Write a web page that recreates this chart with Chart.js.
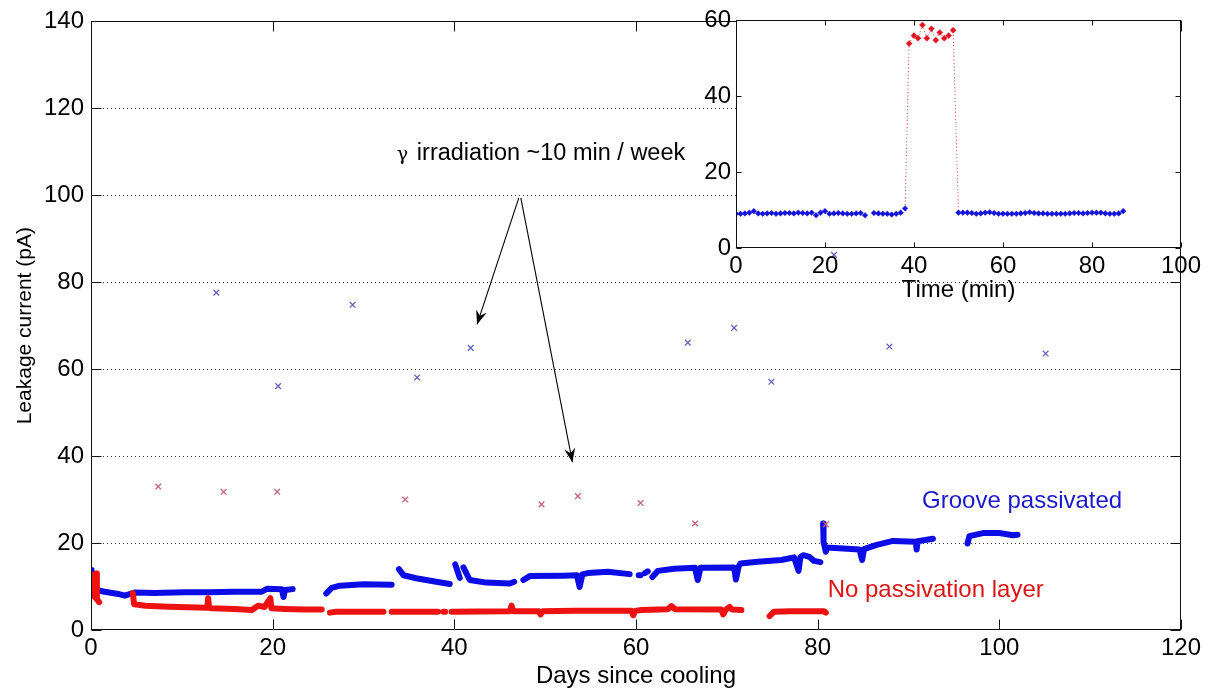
<!DOCTYPE html>
<html><head><meta charset="utf-8">
<script src="https://cdn.jsdelivr.net/npm/chart.js@4/dist/chart.umd.min.js"></script>
<style>
html,body{margin:0;padding:0;background:#fff;}
#wrap{position:relative;width:1205px;height:691px;overflow:hidden;}
#main{position:absolute;left:0;top:0;}
#inset{position:absolute;left:680px;top:0;}
</style></head><body>
<div id="wrap"><canvas id="main" width="1205" height="691"></canvas><canvas id="inset" width="525" height="310"></canvas></div>
<script>
// ---------- main chart data ----------
const mainXTicks = [0,20,40,60,80,100,120];
const mainYTicks = [0,20,40,60,80,100,120,140];
const mainGridY = [20,40,60,80,100,120];

// Groove passivated (blue) - null marks a gap in the record
const blueDays = [0,0.05,0.1,0.5,1.5,3.0,3.7,4.8,7,10.3,13,15.8,18.8,19.4,21.0,21.2,21.35,22.2,null,
  25.9,26.5,27.4,30.0,33.1,null,
  33.9,34.4,35.8,38.0,39.5,null,
  40.1,40.6,null,
  41.0,41.7,43.5,46.1,46.6,null,
  47.6,48.3,52.0,53.5,53.8,54.1,54.7,56.9,59.3,null,
  60.3,60.5,null,
  61.0,61.3,null,
  61.8,62.4,64.2,66.5,66.8,67.1,70.8,71.0,71.3,71.5,73.4,76.0,77.4,77.9,78.1,78.4,79.1,79.6,80.3,null,
  80.6,80.65,80.9,81.0,84.6,84.9,85.1,86.5,88.3,90.8,90.9,91.0,92.7,null,
  96.5,96.7,98.2,100.0,101.5,102.0];
const blueVals = [13.8,11.5,9.8,9.3,8.8,8.3,7.9,8.6,8.5,8.7,8.7,8.8,8.8,9.5,9.4,7.6,9.2,9.4,null,
  8.4,9.7,10.2,10.5,10.4,null,
  14.0,12.6,11.9,11.1,10.6,null,
  15.1,12.0,null,
  14.4,11.5,10.9,10.7,11.1,null,
  11.5,12.4,12.5,12.6,9.9,12.8,13.1,13.4,12.85,null,
  12.6,12.6,null,
  13.1,13.5,null,
  12.2,13.6,14.1,14.3,11.5,14.3,14.4,11.6,14.6,15.3,15.7,16.1,16.7,13.6,16.8,17.2,16.8,15.9,15.6,null,
  24.5,20.3,18.0,19.0,18.5,16.1,18.6,19.6,20.5,20.3,18.5,20.4,21.0,null,
  19.9,21.6,22.3,22.3,21.8,21.9];

// No passivation layer (red)
const redDays = [0,0.03,0.06,0.3,0.55,0.6,0.65,0.9,null,
  4.6,4.75,6,8.5,12.8,12.9,13.0,13.3,15.8,17.7,18.4,19.1,19.75,19.85,21.3,23.5,25.4,null,
  26.3,27,32.2,null,
  33.1,38.2,null,
  38.8,39.0,null,
  39.7,46.1,46.3,46.5,49.3,49.5,49.7,53.2,59.5,59.7,59.9,60.6,63.5,63.9,64.3,69.4,69.6,69.9,70.3,70.6,71.6,null,
  74.7,75.2,77,80.7,80.9];
const redVals = [12.8,11.0,9.0,7.9,7.3,13.0,7.1,6.4,null,
  8.5,5.9,5.6,5.35,5.1,7.3,5.1,5.0,4.85,4.6,5.6,5.3,7.3,5.0,4.85,4.7,4.7,null,
  4.0,4.2,4.2,null,
  4.2,4.2,null,
  4.2,4.2,null,
  4.2,4.3,5.6,4.3,4.3,3.6,4.3,4.4,4.4,3.4,4.4,4.6,4.8,5.5,4.8,4.7,3.6,4.7,5.3,4.7,4.6,null,
  3.2,4.2,4.3,4.3,4.0];

// irradiation readings (crosses)
const blueCrossDays = [13.8,20.6,28.8,35.9,41.8,65.7,70.8,74.9,81.8,87.9,105.1];
const blueCrossVals = [77.6,56.1,74.8,58.1,64.9,66.1,69.5,57.1,86.3,65.2,63.6];
const redCrossDays = [7.4,14.6,20.5,34.6,49.6,53.6,60.5,66.5,80.9];
const redCrossVals = [33.0,31.8,31.8,30.0,28.9,30.8,29.2,24.5,24.3];

// ---------- inset data ----------
const insetXTicks = [0,20,40,60,80,100];
const insetYTicks = [0,20,40,60];
const insetBlueMin = [0,1,2,3,4,5,6,7,8,9,10,11,12,13,14,15,16,17,18,19,20,21,22,23,24,25,26,27,28,29,
  31,32,33,34,35,36,37,38,
  50,51,52,53,54,55,56,57,58,59,60,61,62,63,64,65,66,67,68,69,70,71,72,73,74,75,76,77,78,79,80,81,82,83,84,85,86,87];
const insetBlueVals = [9.0,9.0,9.1,9.3,9.7,9.1,9.0,9.1,9.2,9.0,9.1,9.2,9.2,9.1,9.3,9.2,9.1,9.3,8.6,9.3,9.7,9.0,9.1,9.2,9.1,9.0,9.0,9.1,9.2,8.6,
  9.2,9.1,9.0,9.0,8.8,9.0,9.3,10.4,
  9.3,9.3,9.3,9.2,9.0,9.1,9.3,9.4,9.2,9.0,9.0,9.0,9.0,9.0,9.1,9.2,9.4,9.2,9.1,9.1,9.0,9.0,9.0,9.0,9.0,9.1,9.2,9.2,9.1,9.2,9.3,9.3,9.3,9.1,9.0,9.0,9.1,9.7];
const insetRedMin = [38.9,40.0,40.9,41.9,42.9,43.9,44.9,45.8,46.8,47.8,48.8];
const insetRedVals = [53.8,55.9,55.2,58.7,55.2,57.7,54.7,56.7,55.2,55.9,57.3];

// ---------- text ----------
const yTitle = 'Leakage current (pA)';
const xTitle = 'Days since cooling';
const insetXTitle = 'Time (min)';
const noteGamma = '\u03b3';
const noteText = 'irradiation ~10 min / week';
const blueLabel = 'Groove passivated';
const redLabel = 'No passivation layer';

const FONT = '"Liberation Sans", Arial, Helvetica, sans-serif';
const SERIF = '"DejaVu Serif", "Liberation Serif", serif';
const BLUE = '#0c0ce6';
const RED = '#ee1111';

function toPoints(xs, ys){ return xs.map((x,i)=>({x:x, y:ys[i]})); }

function arrow(ctx, x1, y1, x2, y2){
  ctx.beginPath(); ctx.moveTo(x1,y1); ctx.lineTo(x2,y2); ctx.stroke();
  const a = Math.atan2(y2-y1, x2-x1);
  const L = 14, W = 5.5, N = 9;
  const c = Math.cos(a), s = Math.sin(a);
  const bx = x2 - L*c, by = y2 - L*s;
  const nx = -s, ny = c;
  ctx.beginPath();
  ctx.moveTo(x2,y2);
  ctx.lineTo(bx + W*nx, by + W*ny);
  ctx.lineTo(x2 - N*c, y2 - N*s);
  ctx.lineTo(bx - W*nx, by - W*ny);
  ctx.closePath(); ctx.fill();
}

function framePlugin(o){
  return {
    id: 'frame',
    beforeDraw(chart){
      if (!o.fillArea) return;
      const a = chart.chartArea, ctx = chart.ctx;
      ctx.save(); ctx.fillStyle = '#fff';
      ctx.fillRect(a.left, a.top, a.right-a.left, a.bottom-a.top);
      ctx.restore();
    },
    beforeDatasetsDraw(chart){
      const a = chart.chartArea, ctx = chart.ctx, ys = chart.scales.y;
      if (!o.gridY) return;
      ctx.save();
      ctx.strokeStyle = '#333'; ctx.lineWidth = 1; ctx.setLineDash([1,3]);
      o.gridY.forEach(v=>{
        const y = Math.round(ys.getPixelForValue(v)) + 0.5;
        ctx.beginPath(); ctx.moveTo(a.left, y); ctx.lineTo(a.right, y); ctx.stroke();
      });
      ctx.restore();
    },
    afterDatasetsDraw(chart){
      const a = chart.chartArea, ctx = chart.ctx, xs = chart.scales.x, ys = chart.scales.y;
      ctx.save();
      ctx.strokeStyle = '#111'; ctx.lineWidth = 1; ctx.setLineDash([]);
      const L = Math.round(a.left)+0.5, R = Math.round(a.right)-0.5, T = Math.round(a.top)+0.5, B = Math.round(a.bottom)-0.5;
      ctx.strokeRect(L, T, R-L, B-T);
      o.xTicks.forEach(v=>{
        const x = Math.round(xs.getPixelForValue(v)) + 0.5;
        ctx.beginPath(); ctx.moveTo(x, B); ctx.lineTo(x, B - o.tl); ctx.moveTo(x, T); ctx.lineTo(x, T + o.tl); ctx.stroke();
      });
      o.yTicks.forEach(v=>{
        const y = Math.round(ys.getPixelForValue(v)) + 0.5;
        ctx.beginPath(); ctx.moveTo(L, y); ctx.lineTo(L + o.tl, y); ctx.moveTo(R, y); ctx.lineTo(R - o.tl, y); ctx.stroke();
      });
      ctx.restore();
      if (o.extra) o.extra(chart, ctx, xs, ys, a);
    }
  };
}

function scaleConf(min, max, ticks, fit, pad){
  return {
    type: 'linear', min: min, max: max,
    afterBuildTicks: s => { s.ticks = ticks.map(v=>({value:v})); },
    afterFit: fit,
    grid: { display: false, drawTicks: false },
    border: { display: false },
    ticks: { color: '#000', font: { family: FONT, size: 24 }, padding: pad, autoSkip: false, maxRotation: 0, callback: v => String(v) }
  };
}

Chart.defaults.font.family = FONT;

new Chart(document.getElementById('main'), {
  type: 'scatter',
  data: { datasets: [
    { data: toPoints(redCrossDays, redCrossVals), pointStyle: 'crossRot', pointRadius: 4, borderColor: '#c4607a', borderWidth: 1.3, backgroundColor: 'transparent' },
    { data: toPoints(blueCrossDays, blueCrossVals), pointStyle: 'crossRot', pointRadius: 4, borderColor: '#6464bc', borderWidth: 1.3, backgroundColor: 'transparent' },
    { data: toPoints(redDays, redVals), showLine: true, spanGaps: false, borderColor: RED, borderWidth: 6, pointRadius: 0, borderJoinStyle: 'round', borderCapStyle: 'round', tension: 0 },
    { data: toPoints(blueDays, blueVals), showLine: true, spanGaps: false, borderColor: BLUE, borderWidth: 6, pointRadius: 0, borderJoinStyle: 'round', borderCapStyle: 'round', tension: 0 }
  ]},
  options: {
    responsive: false, animation: false, devicePixelRatio: 1,
    layout: { padding: { top: 20, right: 22, left: 0, bottom: 0 } },
    plugins: { legend: { display: false }, tooltip: { enabled: false } },
    scales: {
      x: scaleConf(0, 120, mainXTicks, s => { s.height = 61; }, 4),
      y: scaleConf(0, 140, mainYTicks, s => { s.width = 91; }, 7)
    }
  },
  plugins: [framePlugin({
    gridY: mainGridY, xTicks: mainXTicks, yTicks: mainYTicks, tl: 10,
    extra(chart, ctx, xs, ys, a){
      ctx.save();
      ctx.fillStyle = '#000';
      ctx.font = '24px ' + FONT;
      ctx.textAlign = 'center'; ctx.textBaseline = 'alphabetic';
      ctx.fillText(xTitle, (a.left + a.right)/2, 683);
      ctx.save();
      ctx.translate(31, (a.top + a.bottom)/2);
      ctx.rotate(-Math.PI/2);
      ctx.font = '21px ' + FONT;
      ctx.fillText(yTitle, 0, 0);
      ctx.restore();
      ctx.textAlign = 'left';
      const nx = xs.getPixelForValue(32.9), ny = ys.getPixelForValue(108.1);
      ctx.font = '19px ' + SERIF;
      ctx.fillText(noteGamma, nx + 7, ny);
      ctx.font = '23.5px ' + FONT;
      ctx.fillText(noteText, nx + 27, ny);
      ctx.font = '24px ' + FONT;
      ctx.fillStyle = '#1a1acc';
      ctx.fillText(blueLabel, xs.getPixelForValue(91.5), ys.getPixelForValue(28.1));
      ctx.fillStyle = '#dd1515';
      ctx.fillText(redLabel, xs.getPixelForValue(81.1), ys.getPixelForValue(7.65));
      ctx.strokeStyle = '#000'; ctx.fillStyle = '#000'; ctx.lineWidth = 1.1;
      const ox = xs.getPixelForValue(47.1), oy = ys.getPixelForValue(99.4);
      arrow(ctx, ox, oy, xs.getPixelForValue(42.5), ys.getPixelForValue(70.3));
      arrow(ctx, ox + 2, oy, xs.getPixelForValue(53.0), ys.getPixelForValue(38.6));
      ctx.restore();
    }
  })]
});

// dotted link through the irradiation period in the inset
const iBefore = insetBlueMin.indexOf(38), iAfter = insetBlueMin.indexOf(50);
const linkMin = [insetBlueMin[iBefore]].concat(insetRedMin, [insetBlueMin[iAfter]]);
const linkVals = [insetBlueVals[iBefore]].concat(insetRedVals, [insetBlueVals[iAfter]]);

new Chart(document.getElementById('inset'), {
  type: 'scatter',
  data: { datasets: [
    { data: toPoints(insetRedMin, insetRedVals), pointStyle: 'rectRot', pointRadius: 3, backgroundColor: '#e0141e', borderColor: '#e0141e', borderWidth: 0.5 },
    { data: toPoints(insetBlueMin, insetBlueVals), pointStyle: 'rectRot', pointRadius: 2.8, backgroundColor: '#1212d8', borderColor: '#1212d8', borderWidth: 0.5 },
    { data: toPoints(linkMin, linkVals), showLine: true, borderColor: '#e33', borderWidth: 1, borderDash: [1,2.5], pointRadius: 0, tension: 0 }
  ]},
  options: {
    responsive: false, animation: false, devicePixelRatio: 1,
    layout: { padding: { top: 20, right: 23, left: 0, bottom: 0 } },
    plugins: { legend: { display: false }, tooltip: { enabled: false } },
    scales: {
      x: scaleConf(0, 100, insetXTicks, s => { s.height = 62; }, 4),
      y: scaleConf(0, 60, insetYTicks, s => { s.width = 56; }, 5)
    }
  },
  plugins: [framePlugin({
    fillArea: true, xTicks: insetXTicks, yTicks: insetYTicks, tl: 5,
    extra(chart, ctx, xs, ys, a){
      ctx.save();
      ctx.fillStyle = '#000';
      ctx.font = '24px ' + FONT;
      ctx.textAlign = 'center'; ctx.textBaseline = 'alphabetic';
      ctx.fillText(insetXTitle, (a.left + a.right)/2, 297);
      ctx.restore();
    }
  })]
});
</script>
</body></html>
